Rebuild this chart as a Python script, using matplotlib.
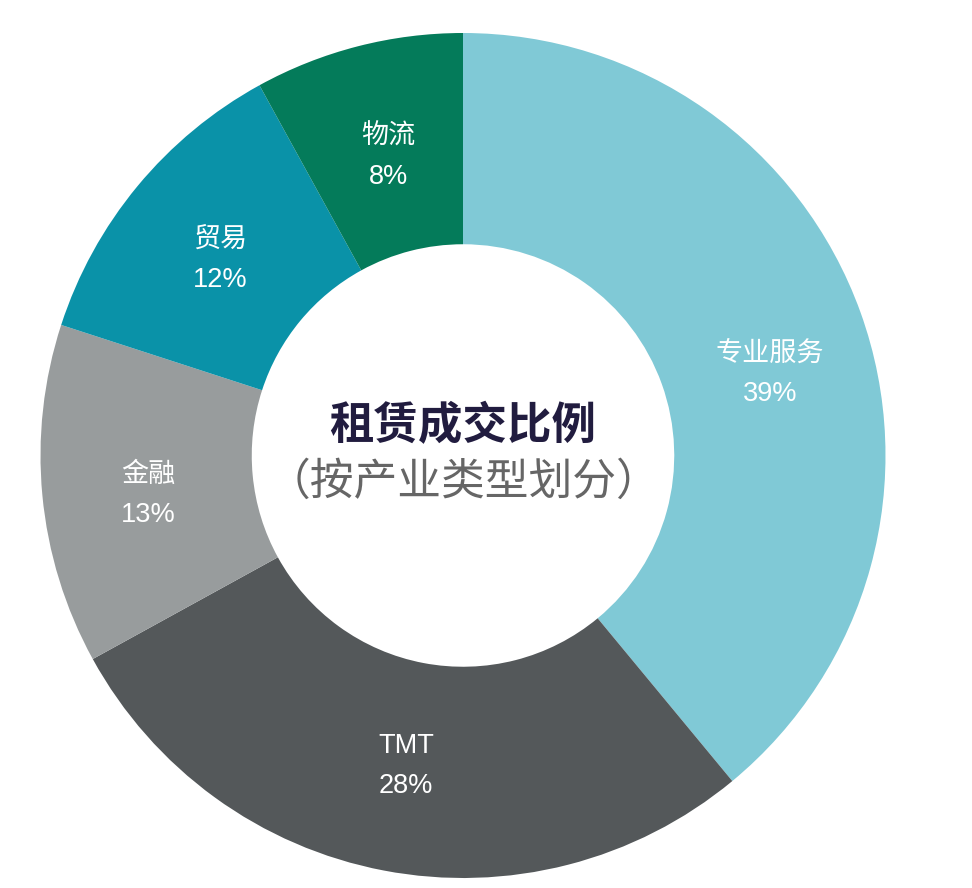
import matplotlib
matplotlib.use("Agg")
import matplotlib.pyplot as plt

categories = ["专业服务", "TMT", "金融", "贸易", "物流"]
values = [39, 28, 13, 12, 8]
colors = ["#80C9D6", "#54585A", "#989C9D", "#0A92A8", "#047B5A"]
title_main = "租赁成交比例"
title_sub = "（按产业类型划分）"

W, H = 972, 888
cx, cy, R = 463, 455.5, 422.5

fig = plt.figure(figsize=(W / 100, H / 100), dpi=100)
ax = fig.add_axes([0, 0, 1, 1])
ax.pie(values, colors=colors, startangle=90, counterclock=False,
       radius=1.0, wedgeprops=dict(width=0.5, linewidth=0))
ax.set_xlim(-cx / R, (W - cx) / R)
ax.set_ylim(-(H - cy) / R, cy / R)
ax.set_aspect("equal")
ax.axis("off")

fam = ["Liberation Sans", "Noto Sans CJK SC", "DejaVu Sans"]

# label positions in pixel coords (centre of two-line label)
label_px = [(770, 374), (406, 766), (148, 495), (220, 260), (388, 157)]
for cat, val, (px, py) in zip(categories, values, label_px):
    x = (px - cx) / R
    y = (cy - py) / R
    ax.text(x, y, f"{cat}\n{val}%", ha="center", va="center", color="white",
            fontsize=19.5, family=fam, linespacing=1.7)

ax.text(0, (cy - 426) / R, title_main, ha="center", va="center",
        fontsize=32, fontweight="bold", color="#211C3F",
        family=["Noto Sans CJK SC", "DejaVu Sans"])
ax.text(0, (cy - 482) / R, title_sub, ha="center", va="center",
        fontsize=31.5, color="#666666",
        family=["Noto Sans CJK SC", "DejaVu Sans"])

fig.savefig("out.png", dpi=100, facecolor="white")
